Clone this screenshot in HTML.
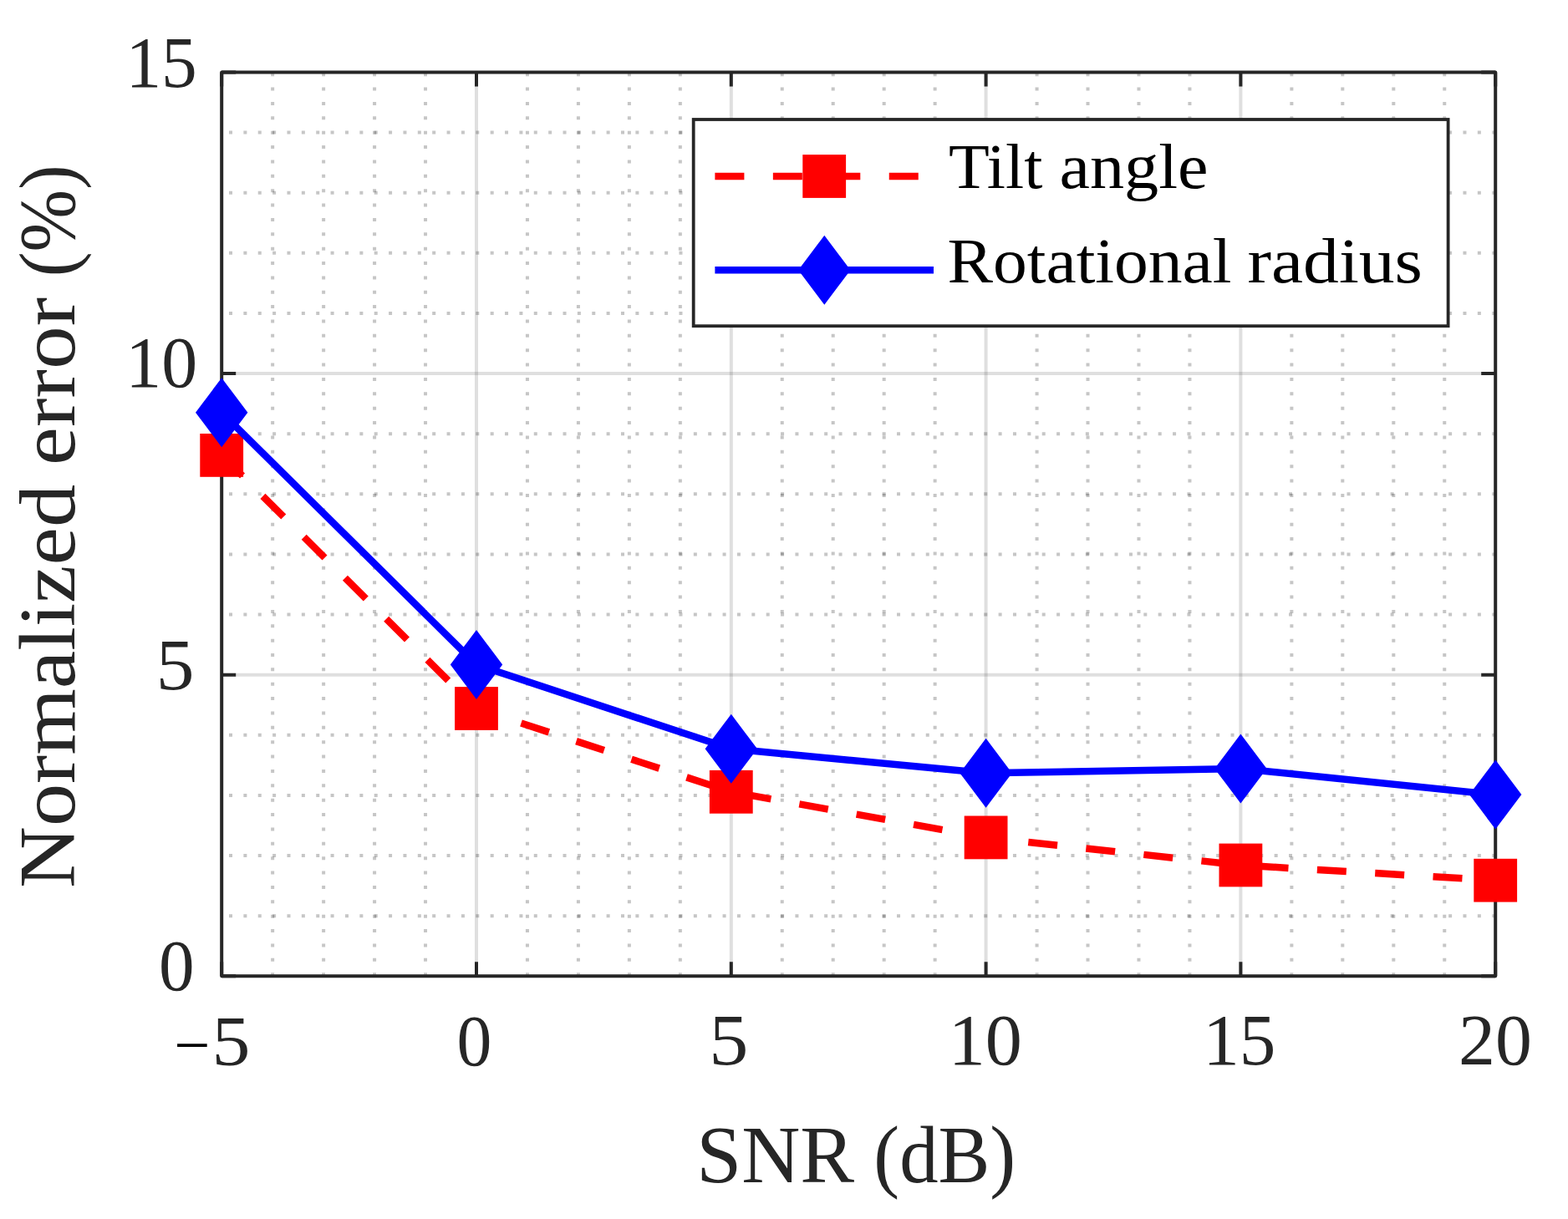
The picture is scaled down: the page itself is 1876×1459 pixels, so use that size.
<!DOCTYPE html>
<html><head><meta charset="utf-8"><title>Normalized error vs SNR</title>
<style>html,body{margin:0;padding:0;background:#fff;}svg{display:block;}</style>
</head><body>
<svg width="1876" height="1459" viewBox="0 0 1876 1459">
<rect width="1876" height="1459" fill="#fff"/>
<path d="M570.00 86.50V1168.30M874.80 86.50V1168.30M1179.60 86.50V1168.30M1484.40 86.50V1168.30" stroke="#262626" stroke-opacity="0.15" stroke-width="4.0" fill="none"/>
<path d="M265.20 807.70H1789.20M265.20 447.10H1789.20" stroke="#262626" stroke-opacity="0.15" stroke-width="4.0" fill="none"/>
<path d="M326.16 86.50V1168.30M387.12 86.50V1168.30M448.08 86.50V1168.30M509.04 86.50V1168.30M630.96 86.50V1168.30M691.92 86.50V1168.30M752.88 86.50V1168.30M813.84 86.50V1168.30M935.76 86.50V1168.30M996.72 86.50V1168.30M1057.68 86.50V1168.30M1118.64 86.50V1168.30M1240.56 86.50V1168.30M1301.52 86.50V1168.30M1362.48 86.50V1168.30M1423.44 86.50V1168.30M1545.36 86.50V1168.30M1606.32 86.50V1168.30M1667.28 86.50V1168.30M1728.24 86.50V1168.30" stroke="#1a1a1a" stroke-opacity="0.25" stroke-width="4" stroke-dasharray="4 13.37" stroke-dashoffset="-0.7" fill="none"/>
<path d="M1789.20 1096.18H265.20M1789.20 1024.06H265.20M1789.20 951.94H265.20M1789.20 879.82H265.20M1789.20 735.58H265.20M1789.20 663.46H265.20M1789.20 591.34H265.20M1789.20 519.22H265.20M1789.20 374.98H265.20M1789.20 302.86H265.20M1789.20 230.74H265.20M1789.20 158.62H265.20" stroke="#1a1a1a" stroke-opacity="0.25" stroke-width="4" stroke-dasharray="4 13.37" fill="none"/>
<path d="M265.20 1168.30v-17M265.20 86.50v17M570.00 1168.30v-17M570.00 86.50v17M874.80 1168.30v-17M874.80 86.50v17M1179.60 1168.30v-17M1179.60 86.50v17M1484.40 1168.30v-17M1484.40 86.50v17M1789.20 1168.30v-17M1789.20 86.50v17M265.20 1168.30h17M1789.20 1168.30h-17M265.20 807.70h17M1789.20 807.70h-17M265.20 447.10h17M1789.20 447.10h-17M265.20 86.50h17M1789.20 86.50h-17" stroke="#262626" stroke-width="4" fill="none"/>
<rect x="265.2" y="86.5" width="1524.00" height="1081.80" fill="none" stroke="#262626" stroke-width="4" stroke-linejoin="round"/>
<polyline points="265.20,544.90 570.00,848.00 874.80,947.80 1179.60,1002.40 1484.40,1035.50 1789.20,1053.70" fill="none" stroke="#f00" stroke-width="8.5" stroke-dasharray="35 34.45" stroke-linejoin="round"/>
<rect x="239.30" y="519.00" width="51.8" height="51.8" fill="#f00"/>
<rect x="544.10" y="822.10" width="51.8" height="51.8" fill="#f00"/>
<rect x="848.90" y="921.90" width="51.8" height="51.8" fill="#f00"/>
<rect x="1153.70" y="976.50" width="51.8" height="51.8" fill="#f00"/>
<rect x="1458.50" y="1009.60" width="51.8" height="51.8" fill="#f00"/>
<rect x="1763.30" y="1027.80" width="51.8" height="51.8" fill="#f00"/>
<polyline points="265.20,493.70 570.00,795.50 874.80,896.30 1179.60,925.30 1484.40,920.00 1789.20,951.10" fill="none" stroke="#00f" stroke-width="8.5" stroke-linejoin="round"/>
<path d="M265.20 452.20L296.40 493.70L265.20 535.20L234.00 493.70Z" fill="#00f"/>
<path d="M570.00 754.00L601.20 795.50L570.00 837.00L538.80 795.50Z" fill="#00f"/>
<path d="M874.80 854.80L906.00 896.30L874.80 937.80L843.60 896.30Z" fill="#00f"/>
<path d="M1179.60 883.80L1210.80 925.30L1179.60 966.80L1148.40 925.30Z" fill="#00f"/>
<path d="M1484.40 878.50L1515.60 920.00L1484.40 961.50L1453.20 920.00Z" fill="#00f"/>
<path d="M1789.20 909.60L1820.40 951.10L1789.20 992.60L1758.00 951.10Z" fill="#00f"/>
<rect x="829.7" y="143.0" width="902.90" height="247.20" fill="#fff" stroke="#262626" stroke-width="3.8"/>
<path d="M855.4 211H1117" stroke="#f00" stroke-width="8.5" stroke-dasharray="35 34.45"/>
<rect x="960.30" y="185.10" width="51.8" height="51.8" fill="#f00"/>
<path d="M855.4 323.3H1117" stroke="#00f" stroke-width="8.5"/>
<path d="M986.30 281.80L1017.50 323.30L986.30 364.80L955.10 323.30Z" fill="#00f"/>
<text x="150.43" y="103.63" font-size="87.31" textLength="85.39" lengthAdjust="spacingAndGlyphs" fill="#262626" font-family="'Liberation Serif', serif">15</text>
<text x="150.38" y="463.14" font-size="85.78" textLength="85.94" lengthAdjust="spacingAndGlyphs" fill="#262626" font-family="'Liberation Serif', serif">10</text>
<text x="186.84" y="825.04" font-size="86.17" textLength="45.71" lengthAdjust="spacingAndGlyphs" fill="#262626" font-family="'Liberation Serif', serif">5</text>
<text x="189.91" y="1185.03" font-size="87.26" textLength="42.59" lengthAdjust="spacingAndGlyphs" fill="#262626" font-family="'Liberation Serif', serif">0</text>
<text x="253.61" y="1274.65" font-size="85.26" textLength="45.96" lengthAdjust="spacingAndGlyphs" fill="#262626" font-family="'Liberation Serif', serif">5</text>
<text x="208.27" y="1276.78" font-size="78.00" textLength="43.18" lengthAdjust="spacingAndGlyphs" fill="#000" font-family="'Liberation Serif', serif">−</text>
<text x="546.46" y="1274.63" font-size="86.81" textLength="41.88" lengthAdjust="spacingAndGlyphs" fill="#262626" font-family="'Liberation Serif', serif">0</text>
<text x="848.17" y="1274.43" font-size="86.92" textLength="47.20" lengthAdjust="spacingAndGlyphs" fill="#262626" font-family="'Liberation Serif', serif">5</text>
<text x="1134.68" y="1274.14" font-size="86.22" textLength="88.23" lengthAdjust="spacingAndGlyphs" fill="#262626" font-family="'Liberation Serif', serif">10</text>
<text x="1439.17" y="1274.13" font-size="86.87" textLength="87.22" lengthAdjust="spacingAndGlyphs" fill="#262626" font-family="'Liberation Serif', serif">15</text>
<text x="1745.05" y="1274.14" font-size="86.22" textLength="87.85" lengthAdjust="spacingAndGlyphs" fill="#262626" font-family="'Liberation Serif', serif">20</text>
<text x="833.14" y="1415.00" font-size="97.73" textLength="188.99" lengthAdjust="spacingAndGlyphs" fill="#262626" font-family="'Liberation Serif', serif">SNR</text>
<text x="1045.33" y="1415.00" font-size="97.73" textLength="169.86" lengthAdjust="spacingAndGlyphs" fill="#262626" font-family="'Liberation Serif', serif">(dB)</text>
<text transform="translate(88.8 1062.97) rotate(-90)" font-size="95.45" textLength="483.07" lengthAdjust="spacingAndGlyphs" fill="#262626" font-family="'Liberation Serif', serif">Normalized</text>
<text transform="translate(88.8 557.04) rotate(-90)" font-size="95.45" textLength="201.26" lengthAdjust="spacingAndGlyphs" fill="#262626" font-family="'Liberation Serif', serif">error</text>
<text transform="translate(88.8 331.33) rotate(-90)" font-size="95.45" textLength="134.17" lengthAdjust="spacingAndGlyphs" fill="#262626" font-family="'Liberation Serif', serif">(%)</text>
<text x="1134.90" y="224.70" font-size="76.06" textLength="112.53" lengthAdjust="spacingAndGlyphs" fill="#000" font-family="'Liberation Serif', serif">Tilt</text>
<text x="1267.52" y="224.70" font-size="76.06" textLength="178.00" lengthAdjust="spacingAndGlyphs" fill="#000" font-family="'Liberation Serif', serif">angle</text>
<text x="1133.55" y="337.80" font-size="76.06" textLength="339.96" lengthAdjust="spacingAndGlyphs" fill="#000" font-family="'Liberation Serif', serif">Rotational</text>
<text x="1492.49" y="337.80" font-size="76.06" textLength="209.43" lengthAdjust="spacingAndGlyphs" fill="#000" font-family="'Liberation Serif', serif">radius</text>
</svg>
</body></html>
